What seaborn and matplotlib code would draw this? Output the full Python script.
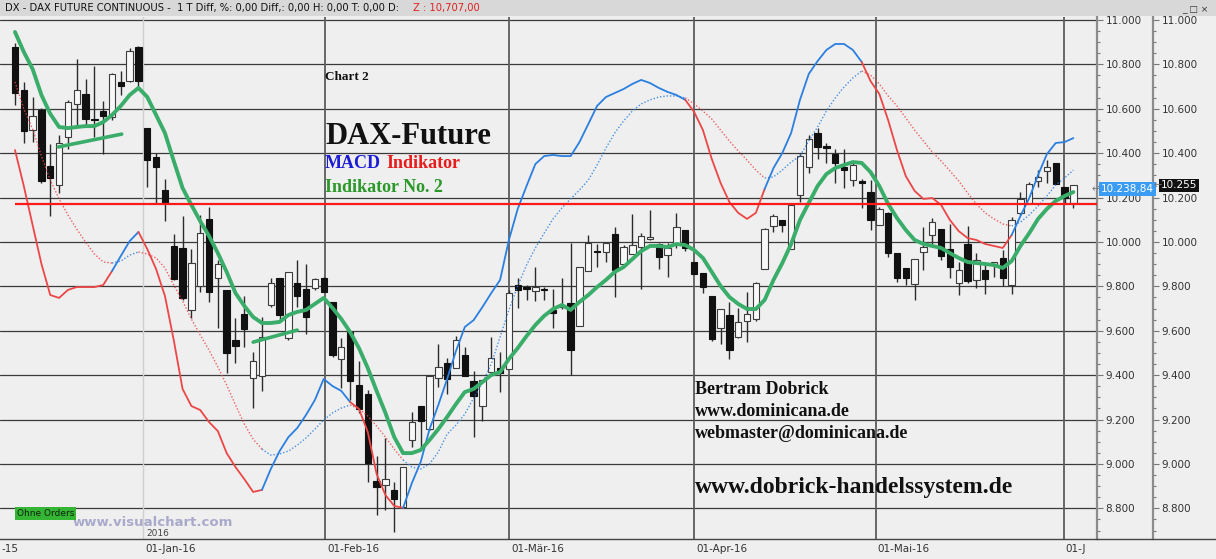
import numpy as np
import pandas as pd
import matplotlib.pyplot as plt
import matplotlib.transforms as mtransforms
from matplotlib.lines import Line2D
from matplotlib.patches import Rectangle
from matplotlib.ticker import MultipleLocator, FuncFormatter
import seaborn as sns

# Tageskerzen DAX-Future, ein Eintrag pro Handelstag
opens = [10880, 10685, 10505, 10595, 10344, 10255, 10474, 10620, 10667, 10553, 10592, 10562, 10722, 10725, 10880,
         10515, 10384, 10234, 9982, 9971, 9693, 9803, 10102, 9836, 9784, 9558, 9675, 9386, 9396, 9716, 9839, 9566, 9814, 9787, 9794, 9836, 9731,
         9471, 9596, 9356, 9315, 8925, 8905, 8883, 8808, 9108, 9261, 9158, 9389, 9456, 9431, 9491, 9374, 9261, 9416, 9431,
         9426, 9806, 9799, 9779, 9790, 9693, 9705, 9723, 9621, 9871, 9957, 9956, 10034, 9901, 9946, 9979, 10012, 9991, 9941, 9997, 10054,
         9911, 9859, 9758, 9611, 9671, 9573, 9644, 9651, 9878, 10072, 10099, 9967, 10212, 10336, 10489, 10434, 10395, 10339, 10279, 10276, 10227,
         10076, 10132, 9949, 9885, 9809, 9956, 10031, 10057, 9967, 9813, 9991, 9828, 9873, 9903, 9926, 9806, 10132, 10174, 10276, 10321, 10357, 10246, 10174]
highs = [10895, 10720, 10652, 10602, 10441, 10482, 10640, 10823, 10733, 10793, 10635, 10760, 10772, 10872, 10883,
         10515, 10400, 10282, 10034, 10117, 9967, 10121, 10159, 9919, 9784, 9656, 9756, 9506, 9660, 9836, 9839, 9863, 9919, 9901, 9836, 9841, 9731,
         9566, 9596, 9464, 9333, 9036, 9116, 8920, 8988, 9236, 9261, 9401, 9540, 9476, 9577, 9528, 9420, 9378, 9570, 9506,
         9784, 9836, 9806, 9889, 9796, 9787, 9836, 9994, 9889, 10031, 9990, 9997, 10066, 9986, 10126, 10039, 10144, 9994, 9994, 10132, 10054,
         9911, 9859, 9758, 9697, 9731, 9701, 9776, 9821, 10061, 10126, 10099, 10166, 10399, 10482, 10512, 10444, 10417, 10417, 10357, 10282, 10279,
         10159, 10136, 9949, 9885, 9923, 10069, 10106, 10057, 10081, 9911, 10072, 9949, 9903, 9911, 9963, 10114, 10226, 10271, 10324, 10369, 10357, 10246, 10252]
lows = [10617, 10447, 10452, 10264, 10117, 10222, 10417, 10522, 10522, 10471, 10396, 10550, 10662, 10722, 10700,
        10249, 10177, 10095, 9829, 9738, 9656, 9776, 9731, 9611, 9411, 9453, 9528, 9250, 9330, 9705, 9648, 9558, 9708, 9585, 9784, 9776, 9480,
        9341, 9288, 9228, 8920, 8770, 8793, 8695, 8800, 9078, 9070, 9153, 9348, 9315, 9431, 9396, 9123, 9195, 9416, 9326,
        9426, 9701, 9738, 9735, 9738, 9611, 9700, 9401, 9621, 9871, 9889, 9911, 9750, 9889, 9946, 9788, 10009, 9877, 9844, 9971, 9961,
        9856, 9769, 9555, 9540, 9471, 9566, 9551, 9646, 9878, 10046, 10043, 9967, 10182, 10309, 10372, 10357, 10264, 10242, 10252, 10152, 10054,
        10076, 9931, 9821, 9806, 9738, 9876, 9986, 9921, 9836, 9761, 9816, 9791, 9765, 9843, 9801, 9765, 10121, 10171, 10249, 10264, 10261, 10174, 10151]
closes = [10673, 10500, 10569, 10276, 10287, 10444, 10629, 10685, 10553, 10548, 10567, 10755, 10703, 10862, 10725,
          10369, 10339, 10177, 9832, 9746, 9907, 10039, 9776, 9901, 9498, 9531, 9608, 9464, 9573, 9814, 9671, 9863, 9756, 9663, 9832, 9776, 9491,
          9525, 9375, 9246, 9003, 8895, 8931, 8841, 8985, 9191, 9195, 9396, 9438, 9381, 9559, 9396, 9306, 9378, 9476, 9408,
          9769, 9784, 9787, 9796, 9784, 9681, 9718, 9513, 9889, 9997, 9953, 9997, 9874, 9979, 9986, 10027, 10024, 9934, 9971, 10066, 9971,
          9856, 9799, 9561, 9697, 9513, 9641, 9676, 9817, 10058, 10119, 10075, 10166, 10387, 10462, 10429, 10422, 10357, 10324, 10347, 10264, 10099,
          10147, 9951, 9840, 9840, 9923, 9979, 10091, 9937, 9888, 9873, 9825, 9921, 9831, 9911, 9836, 10099, 10192, 10261, 10294, 10336, 10261, 10196, 10255]

# Indikator No. 2 (gruene Linie)
ind2 = [10946, 10856, 10779, 10662, 10577, 10518, 10513, 10518, 10522, 10522, 10540, 10572, 10613, 10662, 10694,
        10653, 10572, 10491, 10365, 10243, 10167, 10094, 10027, 9950, 9865, 9770, 9712, 9662, 9635, 9635, 9640, 9671, 9685, 9694, 9721, 9748, 9703,
        9653, 9594, 9522, 9432, 9329, 9230, 9121, 9049, 9049, 9063, 9108, 9157, 9212, 9270, 9324, 9338, 9369, 9401, 9414,
        9473, 9522, 9576, 9626, 9667, 9698, 9716, 9694, 9730, 9761, 9797, 9829, 9865, 9887, 9923, 9959, 9982, 9982, 9977, 9991, 9986,
        9964, 9928, 9865, 9802, 9752, 9721, 9698, 9698, 9739, 9829, 9905, 9991, 10099, 10176, 10252, 10306, 10333, 10347, 10360, 10356, 10315,
        10252, 10171, 10108, 10054, 10009, 9991, 9982, 9973, 9950, 9928, 9910, 9905, 9901, 9896, 9883, 9914, 9982, 10040, 10104, 10149, 10185, 10207, 10225]

# MACD Indikator, auf Preisskala (durchgezogen) und Signal (gepunktet)
macd = [10414, 10252, 10076, 9901, 9761, 9748, 9784, 9797, 9797, 9797, 9806, 9869, 9937, 10004, 10045,
        9968, 9878, 9757, 9558, 9338, 9261, 9243, 9189, 9148, 9049, 8986, 8932, 8874, 8883, 8977, 9058, 9121, 9162, 9221, 9288, 9383, 9351,
        9329, 9279, 9248, 9144, 8955, 8860, 8811, 8802, 8914, 9009, 9157, 9266, 9383, 9509, 9617, 9648, 9707, 9770, 9829,
        10009, 10149, 10252, 10351, 10387, 10392, 10387, 10387, 10450, 10531, 10613, 10653, 10671, 10689, 10712, 10730, 10716, 10694, 10676, 10662, 10640,
        10586, 10504, 10374, 10266, 10180, 10131, 10104, 10131, 10239, 10333, 10401, 10491, 10640, 10757, 10815, 10865, 10892, 10892, 10865, 10811, 10725,
        10667, 10549, 10414, 10297, 10230, 10194, 10198, 10167, 10099, 10049, 10018, 10009, 9991, 9982, 9973, 10031, 10117, 10198, 10302, 10396, 10446, 10450, 10468]
signal = [10721, 10599, 10509, 10387, 10279, 10194, 10122, 10058, 10000, 9946, 9910, 9905, 9914, 9941, 9955,
          9946, 9928, 9883, 9806, 9734, 9653, 9581, 9513, 9437, 9356, 9266, 9180, 9112, 9067, 9040, 9045, 9058, 9085, 9117, 9157, 9198, 9230,
          9252, 9266, 9248, 9216, 9171, 9121, 9067, 9018, 8986, 8977, 9000, 9054, 9135, 9175, 9225, 9297, 9365, 9450, 9572,
          9694, 9802, 9896, 9973, 10040, 10104, 10153, 10194, 10234, 10279, 10347, 10423, 10491, 10545, 10590, 10622, 10640, 10653, 10658, 10658, 10649,
          10622, 10590, 10554, 10504, 10455, 10410, 10369, 10324, 10288, 10293, 10324, 10360, 10387, 10455, 10518, 10590, 10649, 10698, 10739, 10770, 10752,
          10712, 10658, 10613, 10559, 10504, 10455, 10405, 10365, 10320, 10275, 10221, 10171, 10131, 10104, 10081, 10072, 10090, 10122, 10162, 10207, 10257, 10288, 10324]

# Trendwechsel des MACD (ab Kerze), steigend = blau, fallend = rot
regime_start = [0, 11, 14, 28, 38, 44, 76, 85, 96, 113]
regime_up = [False, True, False, True, False, True, False, True, False, True]

# eingezeichnete Trendlinien und Unterstuetzung
trend_x0 = [4.9, 27.0]
trend_x1 = [12.1, 32.0]
trend_y0 = [10428, 9549]
trend_y1 = [10486, 9603]
support = 10170

month_pos = [14.5, 35.15, 56.0, 77.0, 97.6, 118.9]
month_labels = ["01-Jan-16", "01-Feb-16", "01-Mär-16", "01-Apr-16", "01-Mai-16", "01-J"]
year_pos = 14.5

last_price = 10255
mark_price = 10238.84

W, H = 1216, 559
BG = "#efefef"
GREEN = "#3aad6a"
BLUE = "#2a7fe0"
RED = "#ec4646"
SERIF = ["Liberation Serif", "DejaVu Serif"]

sns.set_theme(style="white")
plt.rcParams["font.family"] = ["DejaVu Sans"]

df = pd.DataFrame({"bar": np.arange(len(closes)), "open": opens, "high": highs,
                   "low": lows, "close": closes, "ind2": ind2,
                   "macd": macd, "signal": signal})

fig = plt.figure(figsize=(W / 100, H / 100), dpi=100, facecolor=BG)
ax = fig.add_axes([0, 20 / H, 1097 / W, 522 / H])
ax.set_facecolor(BG)

# Kerzen
up = df["close"] >= df["open"]
body_lo = np.minimum(df["open"], df["close"])
body_h = np.maximum((df["close"] - df["open"]).abs(), 5)
ax.vlines(df["bar"], df["low"], df["high"], color="#2b2b2b", lw=1.0, zorder=2)
ax.bar(df["bar"][up], body_h[up], bottom=body_lo[up], width=0.72,
       color="#f8f8f8", edgecolor="#3c3c3c", lw=0.8, zorder=3)
ax.bar(df["bar"][~up], body_h[~up], bottom=body_lo[~up], width=0.72,
       color="#111111", edgecolor="#111111", lw=0.8, zorder=3)

# MACD + Signal, Farbe je nach Trend
for k, s in enumerate(regime_start):
    e = regime_start[k + 1] if k + 1 < len(regime_start) else len(df) - 1
    seg = df.iloc[s:e + 1]
    col = BLUE if regime_up[k] else RED
    sns.lineplot(data=seg, x="bar", y="macd", color=col, lw=1.3, ax=ax,
                 legend=False, zorder=5)
    sns.lineplot(data=seg, x="bar", y="signal", color=col, lw=1.0, alpha=0.85,
                 linestyle=(0, (1, 1.4)), ax=ax, legend=False, zorder=5)

sns.lineplot(data=df, x="bar", y="ind2", color=GREEN, lw=2.8, ax=ax,
             legend=False, zorder=6, solid_capstyle="round")
for x0, x1, y0, y1 in zip(trend_x0, trend_x1, trend_y0, trend_y1):
    ax.plot([x0, x1], [y0, y1], color=GREEN, lw=2.6, solid_capstyle="round", zorder=6)

xmin, xmax = -1.7, 122.68
ax.hlines(support, 0, xmax, color="#ff1a1a", lw=1.6, zorder=7)

ax.set_xlim(xmin, xmax)
ax.set_ylim(8662, 11013.5)
ax.set_xlabel("")
ax.set_ylabel("")

# Gitter
ax.yaxis.set_major_locator(MultipleLocator(200))
ax.yaxis.set_minor_locator(MultipleLocator(50))
ax.grid(axis="y", which="major", color="#3a3a3a", lw=0.9, zorder=1)
ax.grid(axis="x", visible=False)
for p in month_pos[1:]:
    ax.axvline(p, color="#5c5c5c", lw=1.3, zorder=1)
ax.axvline(year_pos, color="#cfcfcf", lw=1.0, zorder=1)

fmt = FuncFormatter(lambda v, _: f"{v:,.0f}".replace(",", "."))
ax.yaxis.tick_right()
ax.yaxis.set_major_formatter(fmt)
ax.tick_params(axis="y", which="major", length=4, width=0.8, color="#777777",
               labelsize=7.5, labelcolor="#333333", pad=2, direction="out")
ax.tick_params(axis="y", which="minor", length=2.5, width=0.8, color="#777777", direction="out")
ax.set_xticks(month_pos)
ax.tick_params(axis="x", length=5, width=0.8, color="#444444", labelbottom=False, direction="out")

for side in ["top", "left"]:
    ax.spines[side].set_visible(False)
ax.spines["right"].set_color("#8c8c8c")
ax.spines["right"].set_linewidth(1.6)
ax.spines["bottom"].set_color("#444444")
ax.spines["bottom"].set_linewidth(1.0)

sec = ax.secondary_yaxis(1153 / 1097)
sec.yaxis.set_major_locator(MultipleLocator(200))
sec.yaxis.set_minor_locator(MultipleLocator(50))
sec.yaxis.set_major_formatter(fmt)
sec.tick_params(axis="y", which="major", length=4, width=0.8, color="#777777",
                labelsize=7.5, labelcolor="#333333", pad=2)
sec.tick_params(axis="y", which="minor", length=2.5, width=0.8, color="#777777")
for sp in sec.spines.values():
    sp.set_color("#8c8c8c")
    sp.set_linewidth(1.6)

# Datumsbeschriftung links neben den Monatsstrichen
lab_tr = mtransforms.offset_copy(ax.get_xaxis_transform(), fig=fig, x=2, y=-5, units="dots")
for p, lab in zip(month_pos, month_labels):
    ax.text(p, 0, lab, transform=lab_tr, ha="left", va="top", fontsize=7.5,
            color="#333333", clip_on=False)
# Rest der Dezember-Beschriftung am linken Rand
fig.text(1 / W, 1 - 549 / H, "-15", fontsize=7.5, color="#333333", va="center")
fig.text(146 / W, 1 - 533 / H, "2016", fontsize=6.5, color="#444444", va="center")
fig.add_artist(Line2D([1097 / W, 1], [20 / H, 20 / H], color="#444444", lw=1.0))

# Kursmarken rechts
mixed = mtransforms.blended_transform_factory(ax.transAxes, ax.transData)
ax.text(1.0035, mark_price, "10.238,84", transform=mixed, fontsize=7.5, color="white",
        va="center", ha="left", bbox=dict(boxstyle="square,pad=0.18", fc="#3a9cf2", ec="none"))
ax.text(0.995, mark_price, "←", transform=mixed, fontsize=7, color="#777777", va="center", ha="left")
ax.text(1.0585, last_price, "10.255", transform=mixed, fontsize=7.5, color="white",
        va="center", ha="left", bbox=dict(boxstyle="square,pad=0.18", fc="#111111", ec="none"))
ax.text(1.0515, last_price, "←", transform=mixed, fontsize=7, color="#777777", va="center", ha="left")

# Kopfzeile
fig.patches.append(Rectangle((0, 1 - 16 / H), 1, 16 / H, transform=fig.transFigure,
                             fc="#d8d8d8", ec="none", zorder=10))
fig.text(5 / W, 1 - 8.5 / H, "DX - DAX FUTURE CONTINUOUS -  1 T Diff, %: 0,00 Diff,: 0,00 H: 0,00 T: 0,00 D:",
         fontsize=7.2, color="#111111", va="center", zorder=11)
fig.text(413 / W, 1 - 8.5 / H, "Z : 10,707,00", fontsize=7.2, color="#e02020", va="center", zorder=11)
fig.text(1182 / W, 1 - 10 / H, "_ □ ×", fontsize=6.5, color="#333333", va="center", zorder=11)

# Beschriftungen im Chart
def ftxt(px, py, s, **kw):
    fig.text(px / W, 1 - py / H, s, va="center", ha="left", family=SERIF,
             fontweight="bold", zorder=12, **kw)

ftxt(325, 77, "Chart 2", fontsize=9.5, color="#111111")
ftxt(325, 136, "DAX-Future", fontsize=22, color="#111111")
ftxt(325, 164, "MACD", fontsize=13, color="#1c1cd8")
ftxt(386, 164, "Indikator", fontsize=13, color="#e81c1c")
ftxt(325, 187, "Indikator No. 2", fontsize=13, color="#2a992a")
ftxt(695, 389, "Bertram Dobrick", fontsize=13, color="#111111")
ftxt(695, 411, "www.dominicana.de", fontsize=13, color="#111111")
ftxt(695, 433, "webmaster@dominicana.de", fontsize=13, color="#111111")
ftxt(695, 488, "www.dobrick-handelssystem.de", fontsize=17, color="#111111")

fig.text(73 / W, 1 - 523 / H, "www.visualchart.com", fontsize=9.5, fontweight="bold",
         color="#a9a9cc", va="center", zorder=12)
fig.text(17 / W, 1 - 513.5 / H, "Ohne Orders", fontsize=6.5, color="#112211", va="center", zorder=12,
         bbox=dict(boxstyle="square,pad=0.2", fc="#34b534", ec="none"))

fig.savefig("out.png", dpi=100, facecolor=BG)
